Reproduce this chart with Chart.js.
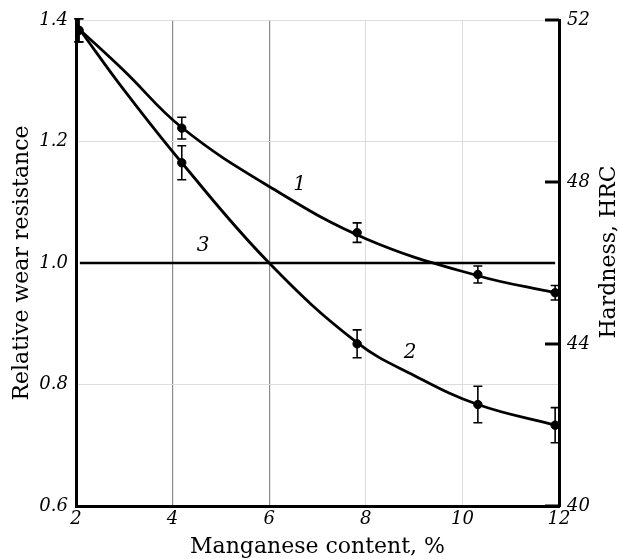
<!DOCTYPE html>
<html>
<head>
<meta charset="utf-8">
<script src="https://cdn.jsdelivr.net/npm/chart.js@4"></script>
<style>
html,body{margin:0;padding:0;background:#fff;}
#wrap{width:619px;height:559px;}
</style>
</head>
<body>
<div id="wrap"><canvas id="c" width="619" height="559"></canvas></div>
<script>
// Measured points (Mn %, relative wear resistance, error)
const mn1 = [2.06, 4.19, 7.82, 10.32, 11.92];
const wear1 = [1.383, 1.222, 1.050, 0.981, 0.951];
const err1 = [0.019, 0.018, 0.016, 0.014, 0.012];

const mn2 = [2.06, 4.19, 7.82, 10.32, 11.92];
const wear2 = [1.383, 1.165, 0.867, 0.767, 0.733];
const err2 = [0.019, 0.028, 0.023, 0.030, 0.029];

// Fitted curves
const curve1X = [2.08, 3.0, 4.19, 6.0, 8.0, 10.32, 11.92];
const curve1Y = [1.384, 1.316, 1.223, 1.126, 1.040, 0.979, 0.951];
const curve2X = [2.08, 3.0, 4.19, 6.0, 7.82, 9.0, 10.32, 11.92];
const curve2Y = [1.384, 1.284, 1.165, 1.0, 0.869, 0.815, 0.767, 0.733];

// Line 3 (reference level)
const line3X = [2.08, 11.92];
const line3Y = [1.0, 1.0];

// Curve labels
const curveLabels = [
  {text: '1', x: 6.63, y: 1.128},
  {text: '2', x: 8.92, y: 0.852},
  {text: '3', x: 4.63, y: 1.028}
];

const xTicks = [2, 4, 6, 8, 10, 12];
const yTicks = [0.6, 0.8, 1.0, 1.2, 1.4];
const y2Ticks = [40, 44, 48, 52];

const zip = (xs, ys) => xs.map((x, i) => ({x, y: ys[i]}));

const errorBars = {
  id: 'errorBars',
  afterDatasetsDraw(chart) {
    const ctx = chart.ctx;
    const xs = chart.scales.x, ys = chart.scales.y;
    ctx.save();
    ctx.strokeStyle = '#000';
    ctx.lineWidth = 1.6;
    chart.data.datasets.forEach(ds => {
      if (!ds.errors) return;
      ds.data.forEach((p, i) => {
        const px = xs.getPixelForValue(p.x);
        const top = ys.getPixelForValue(p.y + ds.errors[i]);
        const bot = ys.getPixelForValue(p.y - ds.errors[i]);
        ctx.beginPath();
        ctx.moveTo(px, top); ctx.lineTo(px, bot);
        ctx.moveTo(px - 4.5, top); ctx.lineTo(px + 4.5, top);
        ctx.moveTo(px - 4.5, bot); ctx.lineTo(px + 4.5, bot);
        ctx.stroke();
      });
    });
    ctx.restore();
  }
};

const extras = {
  id: 'extras',
  afterDraw(chart) {
    const ctx = chart.ctx;
    const xs = chart.scales.x, ys = chart.scales.y, y2 = chart.scales.y2;
    ctx.save();
    // inward ticks on right axis
    ctx.strokeStyle = '#000';
    ctx.lineWidth = 3;
    y2.ticks.forEach(t => {
      const py = y2.getPixelForValue(t.value);
      ctx.beginPath();
      ctx.moveTo(y2.left - 14, py);
      ctx.lineTo(y2.left, py);
      ctx.stroke();
    });
    // curve labels
    ctx.fillStyle = '#000';
    ctx.font = 'italic 20px "DejaVu Serif"';
    ctx.textAlign = 'center';
    ctx.textBaseline = 'middle';
    curveLabels.forEach(l => {
      ctx.fillText(l.text, xs.getPixelForValue(l.x), ys.getPixelForValue(l.y));
    });
    // right axis title (reads bottom to top)
    ctx.font = '22px "DejaVu Serif"';
    ctx.translate(609, (chart.chartArea.top + chart.chartArea.bottom) / 2 - 11);
    ctx.rotate(-Math.PI / 2);
    ctx.fillText('Hardness, HRC', 0, 0);
    ctx.restore();
  }
};

const tickFont = {family: 'DejaVu Serif', size: 18, style: 'italic'};
const titleFont = {family: 'DejaVu Serif', size: 22};

new Chart(document.getElementById('c'), {
  type: 'scatter',
  data: {
    datasets: [
      {data: zip(line3X, line3Y), showLine: true, borderColor: '#000', borderWidth: 2.5, pointRadius: 0},
      {data: zip(curve1X, curve1Y), showLine: true, borderColor: '#000', borderWidth: 2.8, pointRadius: 0, tension: 0.4},
      {data: zip(curve2X, curve2Y), showLine: true, borderColor: '#000', borderWidth: 2.8, pointRadius: 0, tension: 0.4},
      {data: zip(mn1, wear1), errors: err1, pointRadius: 4.2, backgroundColor: '#000', borderColor: '#000'},
      {data: zip(mn2, wear2), errors: err2, pointRadius: 4.2, backgroundColor: '#000', borderColor: '#000'}
    ]
  },
  options: {
    responsive: false,
    animation: false,
    layout: {padding: {top: 20, left: 0, right: 0, bottom: 0}},
    plugins: {legend: {display: false}, tooltip: {enabled: false}},
    scales: {
      x: {
        type: 'linear', min: 2, max: 12,
        afterBuildTicks: s => { s.ticks = xTicks.map(v => ({value: v})); },
        afterFit: s => { s.height = 53; },
        ticks: {font: tickFont, color: '#000', padding: 3, maxRotation: 0},
        grid: {
          drawTicks: false,
          color: c => (c.tick.value === 4 || c.tick.value === 6) ? '#8a8a8a' : ((c.tick.value === 8 || c.tick.value === 10) ? '#dddddd' : 'rgba(0,0,0,0)'),
          lineWidth: c => (c.tick.value === 4 || c.tick.value === 6) ? 1.2 : 1
        },
        border: {color: '#000', width: 3},
        title: {display: true, text: 'Manganese content, %', font: titleFont, color: '#000', padding: {top: 0, bottom: -1}}
      },
      y: {
        type: 'linear', position: 'left', min: 0.6, max: 1.4,
        afterBuildTicks: s => { s.ticks = yTicks.map(v => ({value: v})); },
        afterFit: s => { s.width = 76; },
        ticks: {font: tickFont, color: '#000', padding: 8, callback: v => v.toFixed(1)},
        grid: {
          drawTicks: false,
          color: c => (Math.abs(c.tick.value - 1.0) < 1e-6 || Math.abs(c.tick.value - 0.6) < 1e-6) ? 'rgba(0,0,0,0)' : '#dddddd'
        },
        border: {color: '#000', width: 3},
        title: {display: true, text: 'Relative wear resistance', font: titleFont, color: '#000', padding: {top: 9, bottom: 0}}
      },
      y2: {
        type: 'linear', position: 'right', min: 40, max: 52,
        afterBuildTicks: s => { s.ticks = y2Ticks.map(v => ({value: v})); },
        afterFit: s => { s.width = 60; },
        ticks: {font: tickFont, color: '#000', padding: 8},
        grid: {drawOnChartArea: false, drawTicks: false},
        border: {color: '#000', width: 3}
      }
    }
  },
  plugins: [errorBars, extras]
});
</script>
</body>
</html>
